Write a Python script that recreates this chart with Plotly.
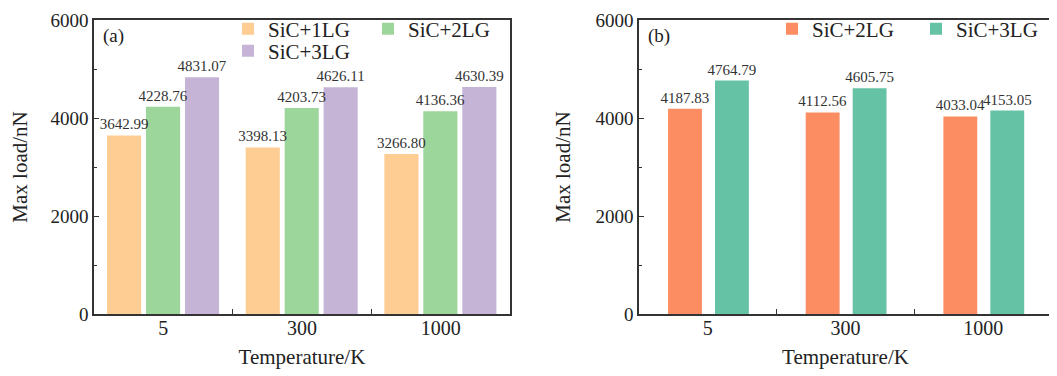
import plotly.graph_objects as go

temps = ["5", "300", "1000"]
a_1lg = [3642.99, 3398.13, 3266.80]
a_2lg = [4228.76, 4203.73, 4136.36]
a_3lg = [4831.07, 4626.11, 4630.39]
b_2lg = [4187.83, 4112.56, 4033.04]
b_3lg = [4764.79, 4605.75, 4153.05]

FONT = "Liberation Serif"
TXT = "#222222"
LINE = "#333333"

TOP = 12         # top margin (px)
PLOT_TOP = TOP + 8
PLOT_H = 368 - TOP - 62

fig = go.Figure()

def add_bar(x, y, name, color, xa, ya, legend, offset):
    fig.add_trace(go.Bar(
        x=x, y=y, name=name, marker=dict(color=color, line=dict(width=0)),
        width=0.246, offset=offset,
        texttemplate="%{y:.2f}", textposition="outside", constraintext="none",
        cliponaxis=False,
        textfont=dict(family=FONT, size=15, color="#333333"),
        xaxis=xa, yaxis=ya, legend=legend,
    ))

# rightmost bars added first so that the value labels of the left bars stay on top
add_bar(temps, a_3lg, "SiC+3LG", "#C6B4D7", "x", "y", "legend2", 0.156)
add_bar(temps, a_2lg, "SiC+2LG", "#9DD69B", "x", "y", "legend", -0.125)
add_bar(temps, a_1lg, "SiC+1LG", "#FECD93", "x", "y", "legend", -0.406)
add_bar(temps, b_3lg, "SiC+3LG", "#66C2A5", "x2", "y2", "legend3", 0.052)
add_bar(temps, b_2lg, "SiC+2LG", "#FC8D62", "x2", "y2", "legend3", -0.289)

xcommon = dict(type="category", tickson="boundaries", ticks="inside", ticklen=5,
               tickcolor=LINE, showline=True, linecolor=LINE, linewidth=1.5,
               mirror=True, showgrid=False, zeroline=False, automargin=False,
               ticklabelstandoff=-5,
               tickfont=dict(family=FONT, size=20, color=TXT),
               title=dict(text="Temperature/K", font=dict(family=FONT, size=21, color=TXT),
                          standoff=12))
ycommon = dict(range=[0, 6000], tick0=0, dtick=2000, ticks="inside", ticklen=5,
               tickcolor=LINE, showline=True, linecolor=LINE, linewidth=1.5,
               mirror=True, showgrid=False, zeroline=False, automargin=False,
               ticklabeloverflow="allow",
               minor=dict(ticks="inside", dtick=1000, ticklen=3, tickcolor=LINE),
               tickfont=dict(family=FONT, size=19, color=TXT),
               title=dict(text="Max load/nN", font=dict(family=FONT, size=21, color=TXT),
                          standoff=19))

legcommon = dict(orientation="h", font=dict(family=FONT, size=21, color=TXT),
                 bgcolor="rgba(0,0,0,0)", xanchor="left", yanchor="middle",
                 itemwidth=30, tracegroupgap=0, traceorder="reversed")

fig.update_layout(
    width=1049, height=368,
    margin=dict(l=86, r=5, t=TOP, b=62, autoexpand=False),
    paper_bgcolor="white", plot_bgcolor="white",
    barmode="overlay",
    xaxis=dict(domain=[0, 0.4342], anchor="y", **xcommon),
    yaxis=dict(domain=[0, 1], anchor="x", **ycommon),
    xaxis2=dict(domain=[0.5689, 1], anchor="y2", **xcommon),
    yaxis2=dict(domain=[0, 1], anchor="x2", **ycommon),
    legend=dict(x=(228 - 94) / 958, y=1 - (29 - PLOT_TOP) / PLOT_H, entrywidth=95, **legcommon),
    legend2=dict(x=(228 - 94) / 958, y=1 - (51 - PLOT_TOP) / PLOT_H, entrywidth=95, **legcommon),
    legend3=dict(x=(772 - 94) / 958, y=1 - (29 - PLOT_TOP) / PLOT_H, entrywidth=99, **legcommon),
    annotations=[
        dict(text="(a)", x=0.007, y=0.99, xref="paper", yref="paper", xanchor="left",
             yanchor="top", showarrow=False, font=dict(family=FONT, size=19, color=TXT)),
        dict(text="(b)", x=0.5689 + 0.007, y=0.99, xref="paper", yref="paper", xanchor="left",
             yanchor="top", showarrow=False, font=dict(family=FONT, size=19, color=TXT)),
    ],
)

fig.write_html("out.html")
